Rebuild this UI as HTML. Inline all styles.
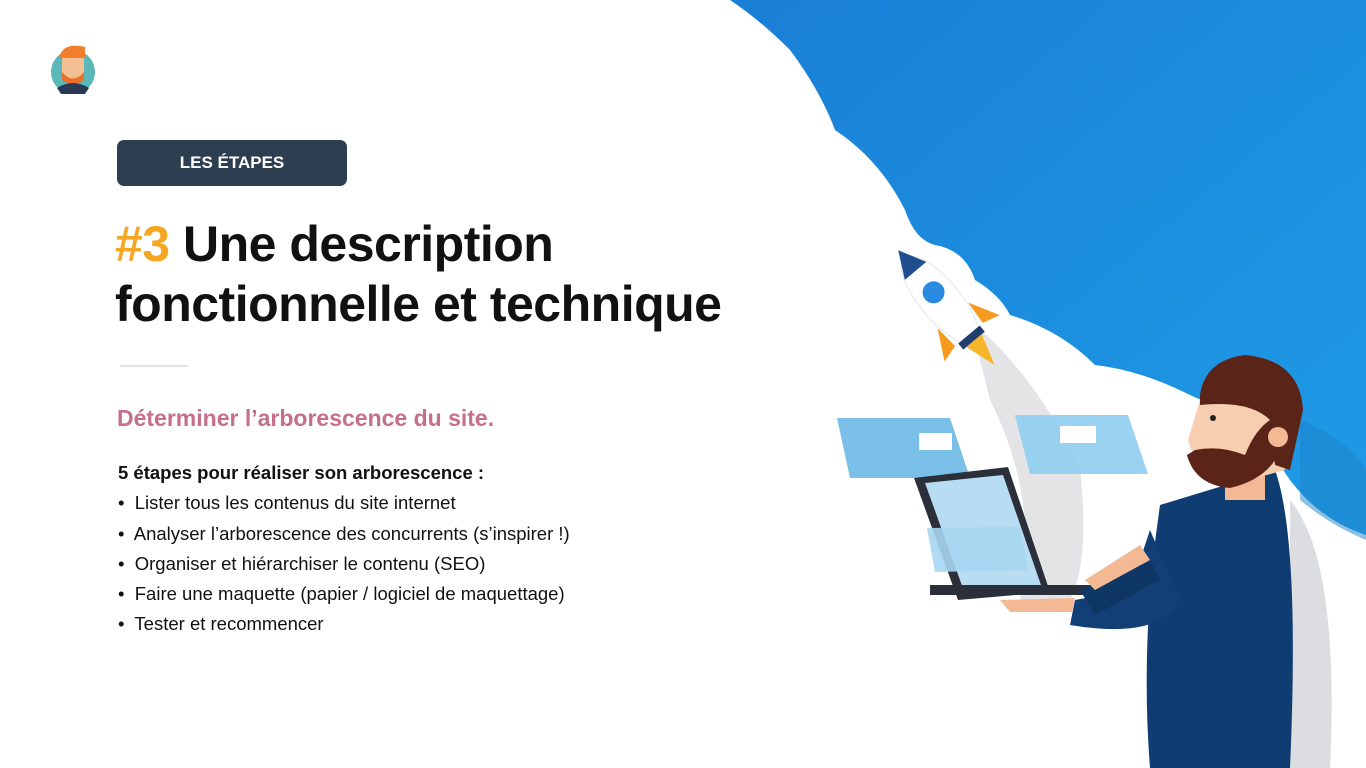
<!DOCTYPE html>
<html><head><meta charset="utf-8"><style>
body{margin:0;width:1366px;height:768px;overflow:hidden;background:#fff;font-family:"Liberation Sans",sans-serif;position:relative}
.t{position:absolute;white-space:nowrap}
</style></head><body>
<svg width="1366" height="768" style="position:absolute;left:0;top:0">
<defs><linearGradient id="g" x1="0" y1="0" x2="1" y2="1"><stop offset="0" stop-color="#1a7fd6"/><stop offset="1" stop-color="#1e9be6"/></linearGradient></defs>
<rect width="1366" height="768" fill="#fff"/>
<path d="M730 0 Q760 20 790 50 Q820 90 835 130 Q880 160 905 210 Q915 240 935 245 Q965 250 975 280 Q1000 295 1010 315 Q1060 330 1095 365 Q1140 370 1190 395 Q1250 420 1290 480 Q1320 520 1366 535 L1366 0 Z" fill="url(#g)"/>
<path d="M1300 420 Q1350 440 1366 470 L1366 540 Q1330 525 1300 500Z" fill="#1c82c8" opacity=".5"/>
<!-- smoke -->
<path d="M970 320 Q1040 380 1080 470 Q1090 560 1070 600 L1020 600 Q1040 500 990 400 Z" fill="#e4e4e6"/>
<!-- rocket -->
<g transform="translate(940,300) rotate(-40)">
<ellipse cx="0" cy="0" rx="20" ry="55" fill="#fff" stroke="#e5e5e5"/>
<path d="M-14 -38 L0 -65 L14 -38 Z" fill="#1f4f8f"/>
<circle cx="0" cy="-10" r="11" fill="#2a8ae0"/>
<path d="M-20 20 L-36 50 L-18 45Z M20 20 L36 50 L18 45Z" fill="#f49a1e"/>
<rect x="-14" y="45" width="28" height="8" fill="#1f3f6f"/>
<path d="M-10 53 L0 85 L10 53Z" fill="#f7b52b"/>
</g>
<!-- floating windows -->
<path d="M837 418 L950 418 L970 478 L850 478Z" fill="#79bfe8"/>
<rect x="919" y="433" width="33" height="17" fill="#fff"/>
<path d="M1015 415 L1128 415 L1148 474 L1030 474Z" fill="#8fcdef" opacity=".9"/>
<rect x="1060" y="426" width="36" height="17" fill="#fff"/>
<!-- laptop -->
<path d="M914 478 L1008 467 L1050 592 L958 600Z" fill="#2a2f3a"/>
<path d="M925 483 L1003 475 L1042 588 L965 594Z" fill="#b8dcf2"/>
<rect x="930" y="585" width="215" height="10" fill="#2a2f3a"/>
<path d="M927 528 L1020 527 L1028 570 L935 572Z" fill="#a7d6f2" opacity=".9"/>
<!-- man -->
<path d="M1290 500 Q1340 560 1330 768 L1290 768Z" fill="#dcdde0"/>
<path d="M1160 505 L1275 470 Q1300 540 1290 768 L1150 768 Q1140 640 1160 505Z" fill="#0f3d72"/>
<path d="M1150 530 L1180 600 Q1160 640 1070 625 L1075 600 L1130 590 Z" fill="#123f75"/>
<path d="M1080 590 L1150 560 L1160 580 L1095 615 Z" fill="#0f3766"/>
<path d="M1085 580 L1140 545 L1150 560 L1095 590Z" fill="#f3b894"/>
<path d="M1000 600 L1075 598 L1072 612 L1010 612Z" fill="#f3b894"/>
<rect x="1225" y="470" width="40" height="30" fill="#f3b894"/>
<path d="M1188 440 L1200 400 Q1240 385 1285 410 L1285 470 L1230 485 Q1200 480 1188 440Z" fill="#f7cfb0"/>
<path d="M1187 455 Q1195 485 1230 488 Q1265 480 1278 455 L1270 420 Q1255 430 1245 455 Q1220 445 1195 450Z" fill="#5a2418"/>
<path d="M1200 395 Q1205 360 1245 355 Q1300 360 1303 410 L1290 470 L1275 465 L1270 420 Q1250 400 1200 405Z" fill="#5a2418"/>
<circle cx="1278" cy="437" r="10" fill="#f3b894"/>
<circle cx="1213" cy="418" r="3" fill="#222"/>
<!-- avatar -->
<circle cx="73" cy="72" r="22" fill="#5bb8b8"/>
<rect x="62" y="52" width="22" height="28" rx="8" fill="#f3bf93"/>
<path d="M60 55 Q65 42 85 47 L85 58 L60 58Z" fill="#f07f2b"/>
<path d="M62 72 Q73 85 84 72 L84 80 Q73 88 62 80Z" fill="#e8702a"/>
<path d="M57 88 Q73 78 89 88 L85 94 L61 94Z" fill="#2a3a55"/>
<line x1="120" y1="366" x2="188" y2="366" stroke="#e3e3e3" stroke-width="2"/>
</svg>
<div class="t" style="left:117px;top:140px;width:230px;height:46px;background:#2d3e50;border-radius:7px;color:#fff;font-weight:bold;font-size:17px;text-align:center;line-height:46px">LES ÉTAPES</div>
<div class="t" style="left:115px;top:214px;font-size:50px;font-weight:bold;color:#111;line-height:60px;letter-spacing:-0.5px"><span style="color:#f5a623">#3</span> Une description<br>fonctionnelle et technique</div>
<div class="t" style="left:117px;top:405px;font-size:23px;font-weight:bold;color:#c66f88">Déterminer l’arborescence du site.</div>
<div class="t" style="left:118px;top:458px;font-size:18.5px;color:#111;line-height:30.3px">
<b>5 étapes pour réaliser son arborescence :</b><br>
•&nbsp; Lister tous les contenus du site internet<br>
•&nbsp; Analyser l’arborescence des concurrents (s’inspirer !)<br>
•&nbsp; Organiser et hiérarchiser le contenu (SEO)<br>
•&nbsp; Faire une maquette (papier / logiciel de maquettage)<br>
•&nbsp; Tester et recommencer</div>
</body></html>
